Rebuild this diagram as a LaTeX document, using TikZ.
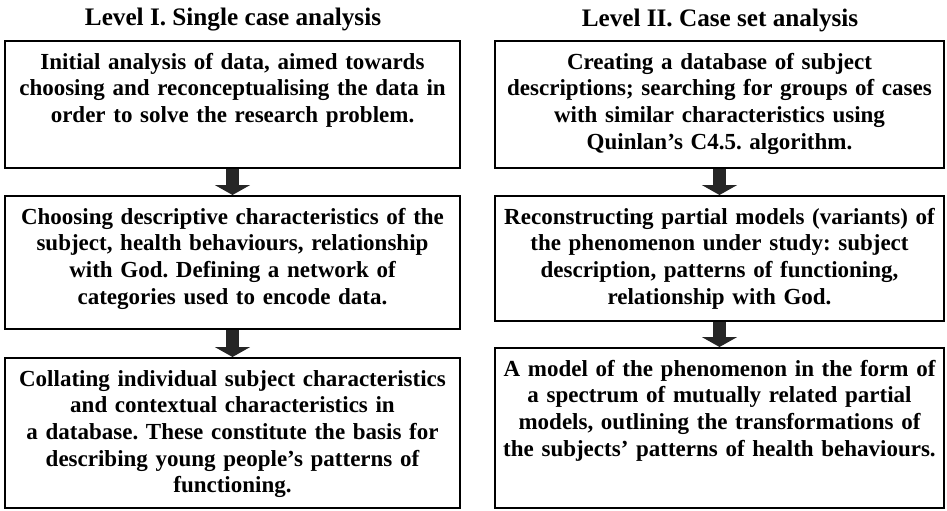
\documentclass[tikz,border=0pt]{standalone}
\usepackage{fontspec}
\setmainfont{Liberation Serif}
\frenchspacing
\usepackage{tikz}
\usetikzlibrary{arrows.meta,positioning}
\tikzset{
  stage/.style={draw=black, line width=1.2pt, align=center, anchor=north, inner xsep=1pt, inner ysep=3pt, text height=11pt, font=\bfseries\fontsize{11.5}{13.3}\selectfont},
  leftstage/.style={stage, text width=225.5pt},
  rightstage/.style={stage, text width=222.5pt},
  levelhead/.style={font=\bfseries\fontsize{12.6}{14}\selectfont, inner sep=0pt},
  blockarrow/.style={-{Triangle[length=5pt,width=17.5pt]}, line width=6.5pt, black!85}
}
\begin{document}
\begin{tikzpicture}[x=0.5pt, y=-0.5pt]
\useasboundingbox (0,0) rectangle (947,510);
% level I
\node[levelhead] (headI) at (233,20) {Level I. Single case analysis};
\node[leftstage, text depth=46.5pt] (single1) at (232.5,40) {Initial analysis of data, aimed towards\\choosing and reconceptualising the data in\\order to solve the research problem.};
\node[leftstage, text depth=49.5pt] (single2) at (232.5,195) {Choosing descriptive characteristics of the\\subject, health behaviours, relationship\\with God. Defining a network of\\categories used to encode data.};
\node[leftstage, text depth=58pt] (single3) at (232.5,357) {Collating individual subject characteristics\\and contextual characteristics in\\a database. These constitute the basis for\\describing young people's patterns of\\functioning.};
% level II
\node[levelhead] (headII) at (720,20) {Level II. Case set analysis};
\node[rightstage, text depth=46.5pt] (set1) at (719.5,40) {Creating a database of subject\\descriptions; searching for groups of cases\\with similar characteristics using\\Quinlan's C4.5. algorithm.};
\node[rightstage, text depth=45.5pt] (set2) at (719.5,195) {Reconstructing partial models (variants) of\\the phenomenon under study: subject\\description, patterns of functioning,\\relationship with God.};
\node[rightstage, text depth=63pt] (set3) at (719.5,347) {A model of the phenomenon in the form of\\a spectrum of mutually related partial\\models, outlining the transformations of\\the subjects' patterns of health behaviours.};
% arrows
\draw[blockarrow] (single1.south) -- (single2.north);
\draw[blockarrow] (single2.south) -- (single3.north);
\draw[blockarrow] (set1.south) -- (set2.north);
\draw[blockarrow] (set2.south) -- (set3.north);
\end{tikzpicture}
\end{document}
